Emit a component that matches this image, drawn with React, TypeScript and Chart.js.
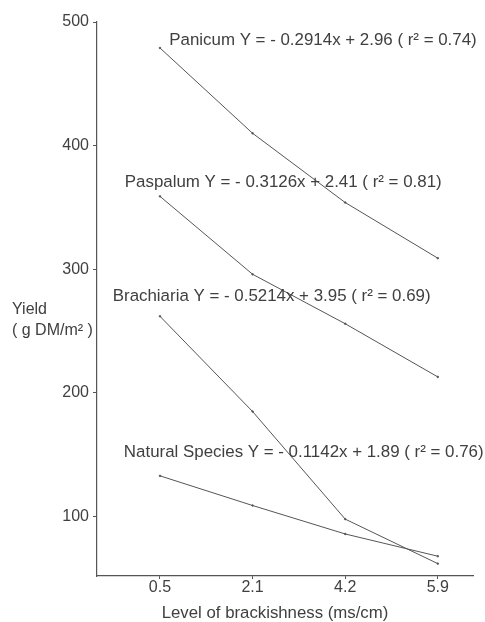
import React, { useEffect, useRef } from "react";
import { Chart, registerables } from "chart.js";

Chart.register(...registerables);

const categories = ["0.5", "2.1", "4.2", "5.9"];
const panicum = [479, 410, 354, 309];
const paspalum = [359, 296, 256, 213];
const brachiaria = [262, 185, 98, 62];
const naturalSpecies = [133, 109, 86, 68];
const yTicks = [100, 200, 300, 400, 500];
const labels = [
  "Panicum Y = - 0.2914x + 2.96 ( r² = 0.74)",
  "Paspalum Y = - 0.3126x + 2.41 ( r² = 0.81)",
  "Brachiaria Y = - 0.5214x + 3.95 ( r² = 0.69)",
  "Natural Species Y = - 0.1142x + 1.89 ( r² = 0.76)",
];
// anchors (x index, y value) for each equation label
const labelAnchors = [
  [0.1, 485],
  [-0.38, 370],
  [-0.51, 278],
  [-0.39, 152],
];

const FONT = '"Liberation Sans", Arial, sans-serif';
const INK = "#404040";

export default function App() {
  const ref = useRef<HTMLCanvasElement | null>(null);
  useEffect(() => {
    if (!ref.current) return;
    const mk = (vals: number[]) => vals.map((v, i) => ({ x: i, y: v }));
    const annot = {
      id: "annot",
      afterDraw(chart: any) {
        const ctx = chart.ctx;
        const xs = chart.scales.x;
        const ys = chart.scales.y;
        ctx.save();
        ctx.fillStyle = INK;
        ctx.font = `16.9px ${FONT}`;
        ctx.textBaseline = "middle";
        ctx.textAlign = "left";
        labels.forEach((t, i) => {
          const [ax, ay] = labelAnchors[i];
          ctx.fillText(t, xs.getPixelForValue(ax), ys.getPixelForValue(ay));
        });
        // y title
        ctx.font = `16px ${FONT}`;
        ctx.fillText("Yield", 12, 310);
        ctx.fillText("( g DM/m² )", 12, 331);
        // x title
        ctx.font = `16.8px ${FONT}`;
        ctx.textAlign = "center";
        ctx.fillText("Level of brackishness (ms/cm)", 275, 613);
        ctx.restore();
      },
    };
    const ds = (label: string, vals: number[]) => ({
      label,
      data: mk(vals),
      borderColor: "#555",
      backgroundColor: "#555",
      borderWidth: 1,
      pointRadius: 0.8,
      tension: 0,
    });
    const chart = new Chart(ref.current, {
      type: "line",
      data: {
        datasets: [
          ds("Panicum", panicum),
          ds("Paspalum", paspalum),
          ds("Brachiaria", brachiaria),
          ds("Natural Species", naturalSpecies),
        ],
      },
      options: {
        responsive: false,
        animation: false,
        layout: { padding: { top: 22, right: 12, left: 0, bottom: 0 } },
        plugins: { legend: { display: false }, tooltip: { enabled: false } },
        scales: {
          x: {
            type: "linear",
            min: -0.68,
            max: 3.38,
            afterBuildTicks: (s: any) => {
              s.ticks = categories.map((_, i) => ({ value: i }));
            },
            afterFit: (s: any) => {
              s.height = 46;
            },
            ticks: {
              callback: (v: any) => categories[v as number] ?? "",
              color: INK,
              font: { family: FONT, size: 16 },
              padding: -1,
              maxRotation: 0,
              autoSkip: false,
            },
            grid: { drawOnChartArea: false, drawTicks: true, tickLength: 3, color: "#555" },
            border: { color: "#555", width: 1.2 },
          },
          y: {
            type: "linear",
            min: 52,
            max: 500,
            afterBuildTicks: (s: any) => {
              s.ticks = yTicks.map((v) => ({ value: v }));
            },
            afterFit: (s: any) => {
              s.width = 97;
            },
            ticks: {
              color: INK,
              font: { family: FONT, size: 16 },
              padding: 4,
            },
            grid: { drawOnChartArea: false, drawTicks: true, tickLength: 4, color: "#555" },
            border: { color: "#555", width: 1.2 },
          },
        },
      },
      plugins: [annot],
    } as any);
    return () => chart.destroy();
  }, []);
  return (
    <div style={{ position: "fixed", left: 0, top: 0, width: 485, height: 622, background: "#fff" }}>
      <canvas ref={ref} width={485} height={622} style={{ width: 485, height: 622 }} />
    </div>
  );
}
